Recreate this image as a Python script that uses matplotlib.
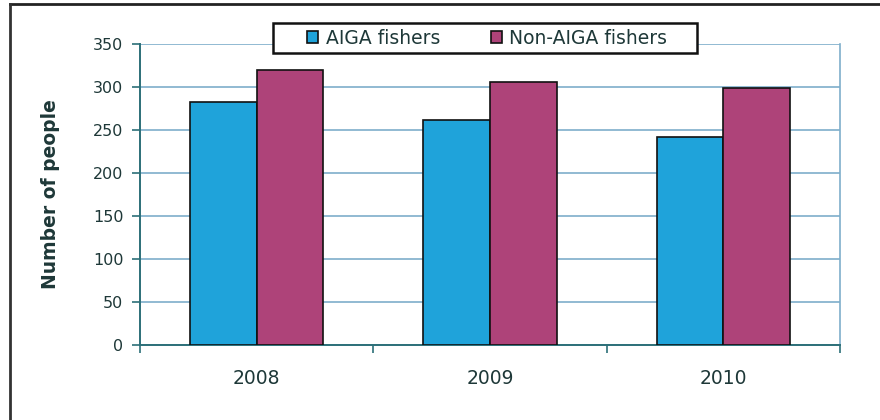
import matplotlib
matplotlib.use("Agg")
import matplotlib.pyplot as plt
import numpy as np
from matplotlib.lines import Line2D
from matplotlib.patches import Rectangle

plt.rcParams['font.family'] = ['DejaVu Sans']

years = ["2008", "2009", "2010"]
aiga = [283, 262, 242]
non_aiga = [320, 306, 299]
series_names = ["AIGA fishers", "Non-AIGA fishers"]
y_ticks = [0, 50, 100, 150, 200, 250, 300, 350]

blue = "#1fa3da"
magenta = "#ae4379"
axis_col = "#2c6f78"
grid_col = "#7eaecb"
text_col = "#1e3838"

W, H = 880, 420
fig = plt.figure(figsize=(8.8, 4.2), dpi=100)
fig.patch.set_facecolor("white")

# page frame: top and left edges only
fig.add_artist(Line2D([10 / W, 1.0], [1 - 4 / H, 1 - 4 / H], transform=fig.transFigure,
                      color="#222222", linewidth=2.0))
fig.add_artist(Line2D([10 / W, 10 / W], [0.0, 1 - 4 / H], transform=fig.transFigure,
                      color="#333333", linewidth=2.0))

ax = fig.add_axes([140 / W, 1 - 345 / H, 700 / W, 301 / H])
x = np.arange(len(years))
w = 1 / 3.5
ax.bar(x - w / 2, aiga, width=w, color=blue, edgecolor="#111111", linewidth=1.2,
       label=series_names[0], zorder=3)
ax.bar(x + w / 2, non_aiga, width=w, color=magenta, edgecolor="#111111", linewidth=1.2,
       label=series_names[1], zorder=3)

ax.set_xlim(-0.5, len(years) - 0.5)
ax.set_ylim(0, 350)
ax.set_yticks(y_ticks)
ax.yaxis.grid(True, color=grid_col, linewidth=1.2, zorder=0)
ax.set_axisbelow(True)

# category boundaries carry tick marks; labels sit at the centers
ax.set_xticks(np.arange(len(years) + 1) - 0.5)
ax.set_xticklabels([])
ax.set_xticks(x, minor=True)
ax.set_xticklabels(years, minor=True)
ax.tick_params(axis='x', which='major', length=6, color=axis_col, width=1.2, direction='out')
ax.tick_params(axis='x', which='minor', length=0, pad=17, labelsize=13.5, labelcolor=text_col)
ax.tick_params(axis='y', length=6, color=axis_col, width=1.2, labelsize=11.5,
               labelcolor=text_col, pad=6)

ax.spines["top"].set_visible(False)
ax.spines["right"].set_color(grid_col)
ax.spines["right"].set_linewidth(1.2)
for s in ["left", "bottom"]:
    ax.spines[s].set_color(axis_col)
    ax.spines[s].set_linewidth(1.4)

ax.set_ylabel("Number of people", fontsize=13.5, fontweight='bold', color=text_col, labelpad=24)

# legend box drawn as its own rectangle, entries laid out inside it
fig.add_artist(Rectangle((273 / W, 1 - 53 / H), 424 / W, 30 / H, transform=fig.transFigure,
                         facecolor="white", edgecolor="#111111", linewidth=1.8, zorder=4))
leg = fig.legend(loc='center', bbox_to_anchor=(487 / W, 1 - 38 / H), ncol=2, fontsize=13.5,
                 frameon=False, handlelength=0.6, handleheight=0.6, handletextpad=0.4,
                 columnspacing=2.7, borderpad=0.2, labelcolor=text_col)
leg.set_zorder(5)

fig.savefig("out.png", dpi=100, facecolor="white")
